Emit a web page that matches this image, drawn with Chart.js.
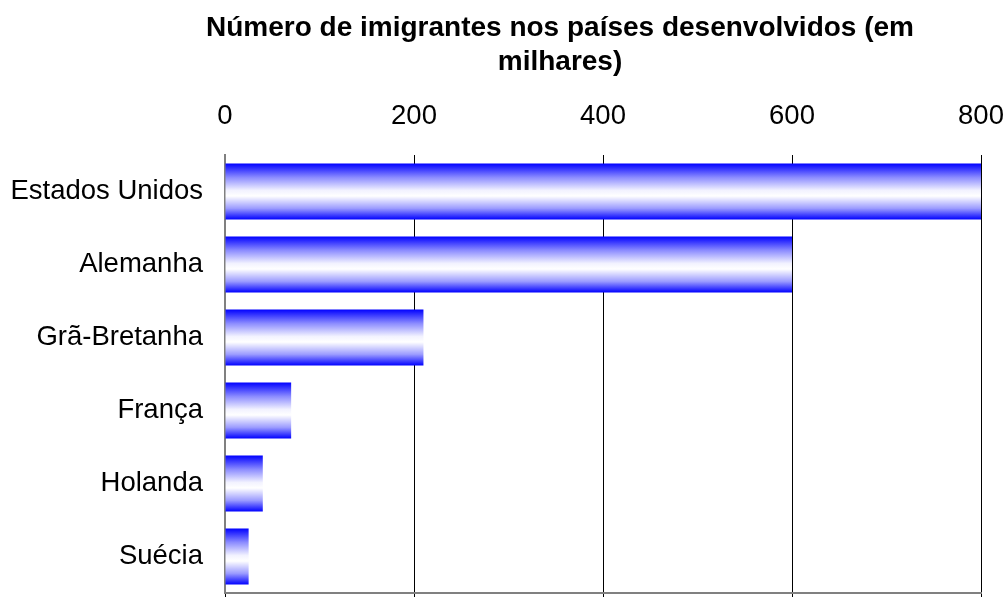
<!DOCTYPE html>
<html>
<head>
<meta charset="utf-8">
<title>Imigrantes</title>
<script src="https://cdn.jsdelivr.net/npm/chart.js@4/dist/chart.umd.min.js"></script>
<style>
    html, body { margin: 0; padding: 0; background: #fff; }
    #wrap { width: 1006px; height: 597px; position: relative; }
</style>
</head>
<body>
<div id="wrap"><canvas id="imChart"></canvas></div>
<script>
const countries = ["Estados Unidos", "Alemanha", "Grã-Bretanha", "França", "Holanda", "Suécia"];
const immigrants = [800, 600, 210, 70, 40, 25];
const titleLines = ["Número de imigrantes nos países desenvolvidos (em", "milhares)"];
const xTicks = [0, 200, 400, 600, 800];

const FONT = "'Liberation Sans', Arial, Helvetica, sans-serif";
const barPct = 0.77;

/* Vertical blue-white-blue fill for each bar */
function barFill(context) {
    const chart = context.chart;
    const area = chart.chartArea;
    const yScale = chart.scales.y;
    if (!area || !yScale) return "#0000ff";
    const center = yScale.getPixelForValue(context.dataIndex);
    const half = (yScale.height / countries.length) * barPct / 2;
    const g = chart.ctx.createLinearGradient(0, center - half, 0, center + half);
    g.addColorStop(0, "#0000ff");
    g.addColorStop(0.25, "#8c8cff");
    g.addColorStop(0.48, "#f2f2ff");
    g.addColorStop(0.58, "#ffffff");
    g.addColorStop(0.8, "#9c9cff");
    g.addColorStop(1, "#0000ff");
    return g;
}

/* Two-line title, centred over a fixed x */
const titlePlugin = {
    id: "twoLineTitle",
    afterDraw(chart) {
        const ctx = chart.ctx;
        ctx.save();
        ctx.font = "bold 28px " + FONT;
        ctx.fillStyle = "#000";
        ctx.textAlign = "center";
        ctx.textBaseline = "alphabetic";
        ctx.fillText(titleLines[0], 560, 36);
        ctx.fillText(titleLines[1], 560, 70);
        ctx.restore();
    }
};

new Chart(document.getElementById("imChart"), {
    type: "bar",
    data: {
        labels: countries,
        datasets: [{
            data: immigrants,
            backgroundColor: barFill,
            borderWidth: 0,
            categoryPercentage: 1,
            barPercentage: barPct
        }]
    },
    options: {
        indexAxis: "y",
        responsive: true,
        maintainAspectRatio: false,
        animation: false,
        layout: { padding: 0 },
        plugins: {
            legend: { display: false },
            tooltip: { enabled: false },
            title: { display: false }
        },
        scales: {
            x: {
                position: "top",
                min: 0,
                max: 800,
                afterBuildTicks: (scale) => {
                    scale.ticks = xTicks.map(v => ({ value: v }));
                },
                afterFit: (scale) => {
                    scale.height = 155;
                    scale.paddingLeft = 0;
                    scale.paddingRight = 25;
                },
                ticks: {
                    color: "#000",
                    font: { family: FONT, size: 27.5 },
                    padding: 22,
                    maxRotation: 0
                },
                border: { display: false },
                grid: {
                    drawTicks: false,
                    color: (c) => c.tick.value === 0 ? "rgba(0,0,0,0)" : "#000",
                    lineWidth: 1
                }
            },
            x2: {
                type: "linear",
                position: "bottom",
                axis: "x",
                min: 0,
                max: 800,
                afterBuildTicks: (scale) => {
                    scale.ticks = xTicks.map(v => ({ value: v }));
                },
                afterFit: (scale) => {
                    scale.height = 4;
                    scale.paddingLeft = 0;
                    scale.paddingRight = 0;
                },
                ticks: { display: false },
                border: { display: true, color: "#808080", width: 2 },
                grid: {
                    drawOnChartArea: false,
                    drawTicks: true,
                    tickLength: 4,
                    color: "#000"
                }
            },
            y: {
                afterFit: (scale) => {
                    scale.width = 225;
                    scale.paddingTop = 0;
                    scale.paddingBottom = 0;
                },
                ticks: {
                    color: "#000",
                    font: { family: FONT, size: 27.5 },
                    padding: 22
                },
                border: { display: true, color: "#808080", width: 2 },
                grid: { display: false, drawTicks: false }
            }
        }
    },
    plugins: [titlePlugin]
});
</script>
</body>
</html>
